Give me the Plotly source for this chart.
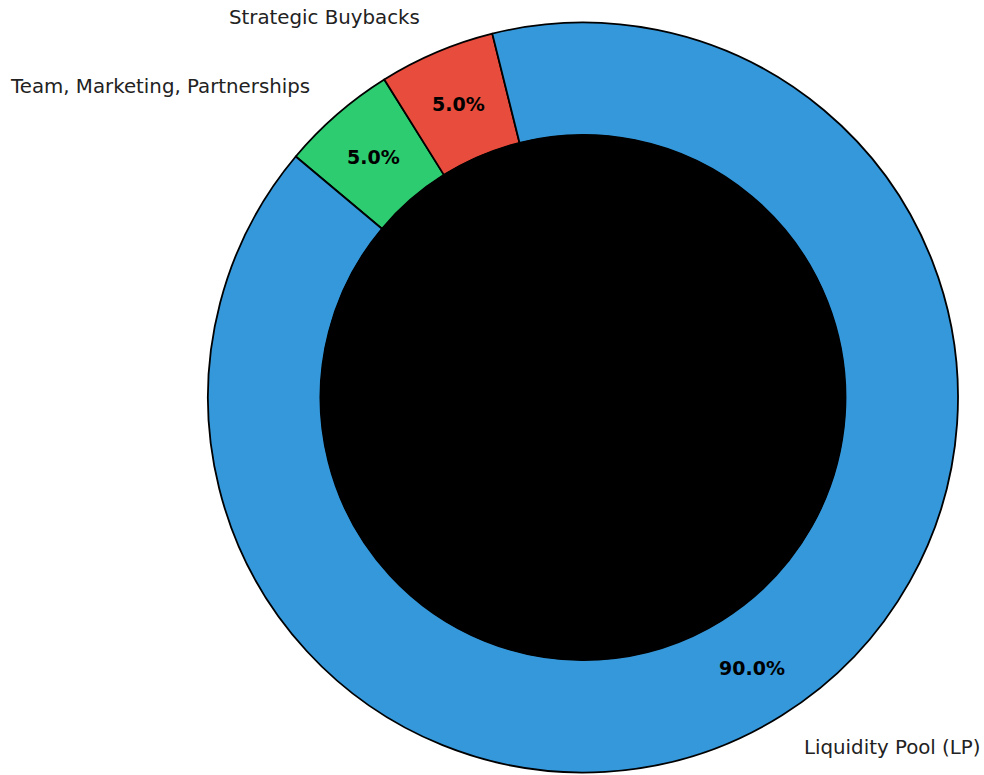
import numpy as np
import plotly.graph_objects as go

# Token allocation (counter-clockwise order starting at START_ANGLE)
labels = ["Liquidity Pool (LP)", "Strategic Buybacks", "Team, Marketing, Partnerships"]
shares = [90, 5, 5]
colors = ["#3498db", "#e74c3c", "#2ecc71"]

# Figure geometry (pixels)
W, H = 984, 775
CX, CY = 583, 397.5      # centre of the donut, measured from the top-left corner
R = 375                  # outer radius
HOLE = 0.70              # inner radius as a fraction of R
START_ANGLE = 140        # degrees, counter-clockwise from 3 o'clock
LABEL_DIST = 1.1
PCT_DIST = 0.85
FONT = "DejaVu Sans"
LABEL_FS = 19.8
PCT_FS = 19


def to_paper(px, py):
    return px / W, 1 - py / H


# plotly draws slices clockwise from `rotation` (0 = 12 o'clock, clockwise positive),
# so feed the slices in reverse to keep the counter-clockwise order.
fig = go.Figure(
    go.Pie(
        labels=labels[::-1],
        values=shares[::-1],
        sort=False,
        direction="clockwise",
        rotation=90 - START_ANGLE,
        hole=HOLE,
        marker=dict(colors=colors[::-1], line=dict(color="black", width=1.8)),
        textinfo="none",
        hoverinfo="label+percent",
        showlegend=False,
        domain=dict(
            x=[(CX - R) / W, (CX + R) / W],
            y=[1 - (CY + R) / H, 1 - (CY - R) / H],
        ),
    )
)

# Outside labels and percentage labels placed at each slice's mid-angle
annotations = []
total = float(sum(shares))
theta = START_ANGLE
for lab, val in zip(labels, shares):
    span = 360.0 * val / total
    mid = np.deg2rad(theta + span / 2)
    theta += span
    c, s = np.cos(mid), np.sin(mid)

    lx, ly = to_paper(CX + LABEL_DIST * R * c, CY - LABEL_DIST * R * s)
    annotations.append(dict(
        x=lx, y=ly, xref="paper", yref="paper", text=lab, showarrow=False,
        xanchor="left" if c > 0 else "right", yanchor="middle",
        font=dict(family=FONT, size=LABEL_FS, color="#222222"),
    ))

    px_, py_ = to_paper(CX + PCT_DIST * R * c, CY - PCT_DIST * R * s)
    annotations.append(dict(
        x=px_, y=py_, xref="paper", yref="paper",
        text="<b>%.1f%%</b>" % (100 * val / total), showarrow=False,
        xanchor="center", yanchor="middle",
        font=dict(family=FONT, size=PCT_FS, color="black"),
    ))

# Solid black centre disc
r_in = HOLE * R
x0, y1 = to_paper(CX - r_in, CY - r_in)
x1, y0 = to_paper(CX + r_in, CY + r_in)
shapes = [dict(type="circle", xref="paper", yref="paper", x0=x0, x1=x1, y0=y0, y1=y1,
               fillcolor="black", line=dict(color="black", width=1), layer="above")]

fig.update_layout(
    width=W, height=H,
    margin=dict(l=0, r=0, t=0, b=0),
    paper_bgcolor="white", plot_bgcolor="white",
    annotations=annotations,
    shapes=shapes,
)

fig.write_html("out.html")
